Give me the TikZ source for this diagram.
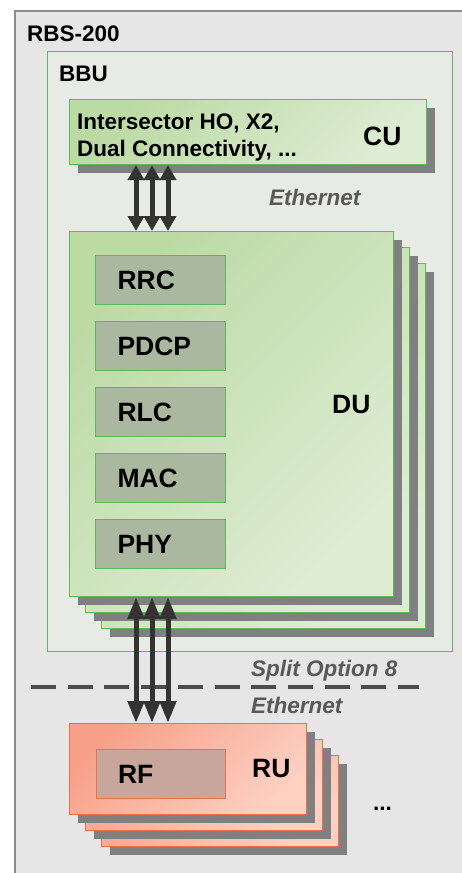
\documentclass[tikz,border=0pt]{standalone}
\usepackage{fontspec}
\setmainfont{Liberation Sans}
\usetikzlibrary{positioning, arrows.meta, shadows}

\definecolor{rbsfill}{HTML}{E6E6E6}
\definecolor{rbsline}{HTML}{8C8C8C}
\definecolor{bbufill}{HTML}{E8EBE5}
\definecolor{greenline}{HTML}{5DB85D}
\definecolor{greentop}{HTML}{BCDAA4}
\definecolor{greenbot}{HTML}{DDECD3}
\definecolor{layerfill}{HTML}{A9B89E}
\definecolor{redline}{HTML}{EE6E4E}
\definecolor{redtop}{HTML}{F8A089}
\definecolor{redbot}{HTML}{FDD0C2}
\definecolor{rffill}{HTML}{C9A69B}
\definecolor{shadowgray}{HTML}{808080}
\definecolor{arrowgray}{HTML}{333333}
\definecolor{notegray}{HTML}{595959}
\definecolor{cutgray}{HTML}{4D4D4D}

\begin{document}
\begin{tikzpicture}[x=1pt, y=-1pt, node distance=16pt,
  small/.style={font=\fontsize{22.5}{27}\selectfont\bfseries, inner sep=0pt},
  big/.style={font=\fontsize{26.5}{30}\selectfont\bfseries, inner sep=0pt},
  note/.style={font=\fontsize{22.5}{27}\selectfont\bfseries\itshape, text=notegray, inner sep=0pt},
  box/.style={draw, rectangle, anchor=north west, inner sep=0pt},
  shade/.style={drop shadow={shadow xshift=8pt, shadow yshift=-8pt, fill=shadowgray, opacity=1}},
  greenbox/.style={box, draw=greenline, line width=1pt, top color=greentop, bottom color=greenbot, shading angle=45, shade},
  dulayer/.style={greenbox, minimum width=324pt, minimum height=365pt},
  rulayer/.style={box, draw=redline, line width=1pt, top color=redtop, bottom color=redbot, shading angle=45, shade, minimum width=237pt, minimum height=91pt},
  layer/.style={box, big, draw=greenline, fill=layerfill, line width=1pt, minimum width=130pt, minimum height=49pt, text width=86pt, inner xsep=22pt, align=left},
  link/.style={draw=arrowgray, line width=5pt, {Triangle[width=16pt,length=#1]}-{Triangle[width=16pt,length=#1]}},
  link/.default=15pt,
  cut/.style={draw=cutgray, line width=4pt, dash pattern=on 25pt off 11.7pt}]
\useasboundingbox (0,0) rectangle (462,873);
\clip (0,0) rectangle (462,873);

\node[box, draw=rbsline, fill=rbsfill, line width=1.5pt, minimum width=470pt, minimum height=880pt] (rbs) at (14,10) {};
\node[small, anchor=base west] (rbslbl) at (27,41) {RBS-200};

\node[box, draw=greenline, fill=bbufill, line width=1.2pt, minimum width=405pt, minimum height=600pt] (bbu) at (47,51) {};
\node[small, anchor=base west] (bbulbl) at (59,81) {BBU};

% CU
\node[greenbox, minimum width=357pt, minimum height=65pt] (cu) at (69,99) {};
\node[small, anchor=base west] (cuinfo1) at (77,129) {Intersector HO, X2,};
\node[small, anchor=base west] (cuinfo2) at (77,156) {Dual Connectivity, ...};
\node[big, anchor=base west] (culbl) at (363,145) {CU};
\node[note, anchor=base west] (eth1) at (269,205) {Ethernet};

% DU stack
\foreach \k/\n in {32/du3,16/du2,0/du}
  \node[dulayer] (\n) at ({69+\k},{231+\k}) {};
\node[layer] (rrc) at (95,255) {RRC};
\node[layer, below=of rrc] (pdcp) {PDCP};
\node[layer, below=of pdcp] (rlc) {RLC};
\node[layer, below=of rlc] (mac) {MAC};
\node[layer, below=of mac] (phy) {PHY};
\node[big, anchor=base west] (dulbl) at (332,413) {DU};

% RU stack
\foreach \k/\n in {32/ru3,16/ru2,0/ru}
  \node[rulayer] (\n) at ({69+\k},{723+\k}) {};
\node[layer, draw=redline, fill=rffill, minimum width=129pt, inner xsep=21pt] (rf) at (96,749) {RF};
\node[big, anchor=base west] (rulbl) at (252,777) {RU};
\node[small, anchor=base west] (more) at (373,810) {...};

% split line
\coordinate (cutl) at (31,687);
\coordinate (cutr) at (419,687);
\draw[cut] (cutl) -- (cutr);
\node[note, anchor=base west] (split) at (251,676) {Split Option 8};
\node[note, anchor=base west] (eth2) at (251,713) {Ethernet};

\foreach \dx in {67,83,99} {
  \draw[link] ([xshift=\dx pt]cu.south west) -- ([xshift=\dx pt]du.north west);
  \draw[link=22pt] ([xshift=\dx pt]du.south west) -- ([xshift=\dx pt]ru.north west);
}
\end{tikzpicture}
\end{document}
